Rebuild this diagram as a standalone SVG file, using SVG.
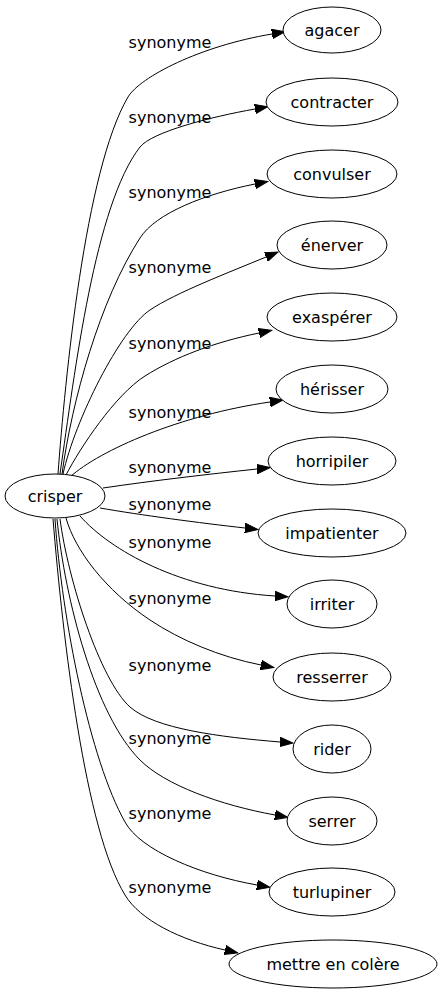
<svg xmlns="http://www.w3.org/2000/svg" width="440" height="995" viewBox="0 0 440 995">
<style>
.n ellipse{fill:#fff;stroke:#000;stroke-width:1}
.n text,.lbl{font-family:"DejaVu Sans",Verdana,sans-serif;font-size:16px;fill:#000;text-anchor:middle}
.e{fill:none;stroke:#000;stroke-width:1;marker-end:url(#ah)}
</style>
<defs>
<marker id="ah" markerUnits="userSpaceOnUse" markerWidth="14" markerHeight="10" refX="0" refY="5" orient="auto">
<path d="M0,0.3 L13,5 L0,9.7 z" fill="#000" stroke="#000" stroke-width="1"/>
</marker>
</defs>
<rect width="440" height="995" fill="#fff"/>
<g id="edges">
<path class="e" d="M58,474 C65,380 85,170 128,97 C140,77 200,46 272,34"/>
<path class="e" d="M60,474 C75,370 95,205 140,147 C152,132 210,117 255,109"/>
<path class="e" d="M62,474 C72,400 100,300 140,238 C156,213 205,194 255,184"/>
<path class="e" d="M63,474 C75,420 120,330 150,310 C175,293 230,272 266,257"/>
<path class="e" d="M66,475 C80,448 115,395 145,376 C175,357 215,342 259,333"/>
<path class="e" d="M70,477 C100,450 180,415 270,402"/>
<path class="e" d="M103,488 C150,481 210,474 257,469"/>
<path class="e" d="M100,508 C140,515 200,523 245,528"/>
<path class="e" d="M80,516 C110,550 180,590 275,596"/>
<path class="e" d="M66,518 C75,550 105,590 150,620 C180,640 220,657 261,665"/>
<path class="e" d="M60,519 C68,580 100,680 130,707 C155,729 220,737 280,742"/>
<path class="e" d="M57,519 C65,600 95,715 140,760 C165,785 220,805 275,815"/>
<path class="e" d="M55,519 C62,620 90,760 125,822 C140,850 200,875 257,885"/>
<path class="e" d="M53,519 C63,640 85,830 125,895 C140,920 180,940 225,950"/>
<text class="lbl" x="170" y="48">synonyme</text>
<text class="lbl" x="170" y="123">synonyme</text>
<text class="lbl" x="170" y="198">synonyme</text>
<text class="lbl" x="170" y="273">synonyme</text>
<text class="lbl" x="170" y="349">synonyme</text>
<text class="lbl" x="170" y="418">synonyme</text>
<text class="lbl" x="170" y="473">synonyme</text>
<text class="lbl" x="170" y="510">synonyme</text>
<text class="lbl" x="170" y="548">synonyme</text>
<text class="lbl" x="170" y="604">synonyme</text>
<text class="lbl" x="170" y="671">synonyme</text>
<text class="lbl" x="170" y="744">synonyme</text>
<text class="lbl" x="170" y="819">synonyme</text>
<text class="lbl" x="170" y="893">synonyme</text>
</g>
<g id="crisper" class="n"><ellipse cx="55" cy="496" rx="50" ry="22"/><text x="55" y="502">crisper</text></g>
<g id="agacer" class="n"><ellipse cx="332" cy="30" rx="49" ry="23"/><text x="332" y="36">agacer</text></g>
<g id="contracter" class="n"><ellipse cx="332" cy="102" rx="66" ry="24"/><text x="332" y="108">contracter</text></g>
<g id="convulser" class="n"><ellipse cx="332" cy="174" rx="65" ry="24"/><text x="332" y="180">convulser</text></g>
<g id="enerver" class="n"><ellipse cx="332" cy="245" rx="55" ry="24"/><text x="332" y="251">énerver</text></g>
<g id="exasperer" class="n"><ellipse cx="332" cy="317" rx="65" ry="24"/><text x="332" y="323">exaspérer</text></g>
<g id="herisser" class="n"><ellipse cx="332" cy="389" rx="56" ry="24"/><text x="332" y="395">hérisser</text></g>
<g id="horripiler" class="n"><ellipse cx="332" cy="461" rx="64" ry="24"/><text x="332" y="467">horripiler</text></g>
<g id="impatienter" class="n"><ellipse cx="332" cy="533" rx="74" ry="24"/><text x="332" y="539">impatienter</text></g>
<g id="irriter" class="n"><ellipse cx="332" cy="604" rx="45" ry="24"/><text x="332" y="610">irriter</text></g>
<g id="resserrer" class="n"><ellipse cx="332" cy="677" rx="59" ry="24"/><text x="332" y="683">resserrer</text></g>
<g id="rider" class="n"><ellipse cx="332" cy="749" rx="39" ry="24"/><text x="332" y="755">rider</text></g>
<g id="serrer" class="n"><ellipse cx="332" cy="821" rx="45" ry="24"/><text x="332" y="827">serrer</text></g>
<g id="turlupiner" class="n"><ellipse cx="332" cy="892" rx="63" ry="24"/><text x="332" y="898">turlupiner</text></g>
<g id="mettre_en_colere" class="n"><ellipse cx="333" cy="964" rx="104" ry="24"/><text x="333" y="970">mettre en colère</text></g>
</svg>
